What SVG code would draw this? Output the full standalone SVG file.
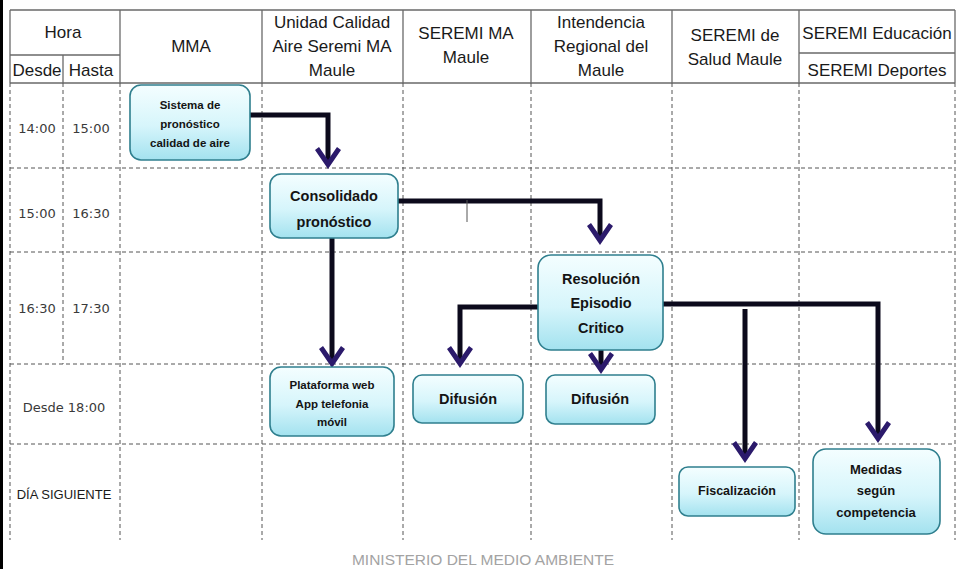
<svg xmlns="http://www.w3.org/2000/svg" xmlns:xlink="http://www.w3.org/1999/xlink" width="957" height="569" viewBox="0 0 957 569">
<style>
.hdr{font-family:"Liberation Sans",Arial,sans-serif;font-size:17px;fill:#1a1a1a;text-anchor:middle}
.tm{font-family:"DejaVu Sans",Verdana,sans-serif;font-size:13px;fill:#3a3a3a;text-anchor:middle}
.tm2{font-family:"Liberation Sans",Arial,sans-serif;font-size:13px;fill:#1a1a1a;text-anchor:middle}
.solid{stroke:#6a6a6a;stroke-width:1.3;fill:none}
.dash{stroke:#555;stroke-width:1;stroke-dasharray:4 3;fill:none}
.box{fill:url(#g);stroke:#2f7f8e;stroke-width:1.6}
.nt{font-family:"Liberation Sans",Arial,sans-serif;font-weight:bold;fill:#141414;text-anchor:middle}
.wire{stroke:#0c0a1c;stroke-width:5;fill:none;stroke-linejoin:miter}
.foot{font-family:"Liberation Sans",Arial,sans-serif;font-size:15.5px;fill:#a3a3a3;text-anchor:middle}
</style>
<defs>
<linearGradient id="g" x1="0" y1="0" x2="0" y2="1">
<stop offset="0" stop-color="#f4feff"/>
<stop offset="0.55" stop-color="#d6f5fb"/>
<stop offset="1" stop-color="#a3e2ef"/>
</linearGradient>
<path id="ah" d="M0,0 L-13,-19 L-9,-22 L0,-9 L9,-22 L13,-19 Z" fill="#2b1a6b"/>
</defs>
<rect x="0" y="0" width="3" height="569" fill="#000"/>
<g id="grid">
<path class="solid" d="M10,10 H955 M10,83 H955 M10,55 H120 M799,53 H955 M63,55 V83 M10,10 V83 M120,10 V83 M262,10 V83 M403,10 V83 M531,10 V83 M672,10 V83 M799,10 V83 M955,10 V83"/>
<path class="dash" d="M10,168 H955 M10,252 H955 M10,364 H955 M10,444 H955 M10,83 V540 M63,83 V364 M120,83 V540 M262,83 V540 M403,83 V540 M531,83 V540 M672,83 V540 M799,83 V540 M955,83 V540"/>
</g>
<g id="header">
<text class="hdr" x="63" y="38">Hora</text>
<text class="hdr" x="37" y="76">Desde</text>
<text class="hdr" x="91" y="76">Hasta</text>
<text class="hdr" x="191" y="52">MMA</text>
<text class="hdr" x="332" y="28">Unidad Calidad</text>
<text class="hdr" x="332" y="52">Aire Seremi MA</text>
<text class="hdr" x="332" y="76">Maule</text>
<text class="hdr" x="466" y="39">SEREMI MA</text>
<text class="hdr" x="466" y="63">Maule</text>
<text class="hdr" x="601" y="28">Intendencia</text>
<text class="hdr" x="601" y="52">Regional del</text>
<text class="hdr" x="601" y="76">Maule</text>
<text class="hdr" x="735" y="41">SEREMI de</text>
<text class="hdr" x="735" y="65">Salud Maule</text>
<text class="hdr" x="877" y="39">SEREMI Educación</text>
<text class="hdr" x="877" y="76">SEREMI Deportes</text>
</g>
<g id="times">
<text class="tm" x="37" y="133">14:00</text>
<text class="tm" x="91" y="133">15:00</text>
<text class="tm" x="37" y="218">15:00</text>
<text class="tm" x="91" y="218">16:30</text>
<text class="tm" x="37" y="313">16:30</text>
<text class="tm" x="91" y="313">17:30</text>
<text class="tm" x="64" y="412">Desde 18:00</text>
<text class="tm2" x="64" y="499">DÍA SIGUIENTE</text>
</g>
<g id="connectors">
<path class="wire" d="M250,115 H328 V164"/>
<use xlink:href="#ah" x="328" y="169"/>
<path class="wire" d="M398,201 H600 V240"/>
<use xlink:href="#ah" x="600" y="245"/>
<path d="M467,200 V222" stroke="#555" stroke-width="1"/>
<path class="wire" d="M332,238 V363"/>
<use xlink:href="#ah" x="332" y="368"/>
<path class="wire" d="M540,307 H460 V363"/>
<use xlink:href="#ah" x="460" y="368"/>
<path class="wire" d="M601,350 V369"/>
<use xlink:href="#ah" x="601" y="374"/>
<path class="wire" d="M663,304 H878 V438"/>
<use xlink:href="#ah" x="878" y="443"/>
<path class="wire" d="M745,309 V458"/>
<use xlink:href="#ah" x="745" y="463"/>
</g>
<g id="n-sistema">
<rect class="box" x="130" y="85" width="120" height="75" rx="11"/>
<text class="nt" font-size="11.5" x="190" y="109">Sistema de</text>
<text class="nt" font-size="11.5" x="190" y="128">pronóstico</text>
<text class="nt" font-size="11.5" x="190" y="147">calidad de aire</text>
</g>
<g id="n-consolidado">
<rect class="box" x="270" y="174" width="128" height="64" rx="11"/>
<text class="nt" font-size="14.5" x="334" y="201">Consolidado</text>
<text class="nt" font-size="14.5" x="334" y="227">pronóstico</text>
</g>
<g id="n-resolucion">
<rect class="box" x="538" y="255" width="125" height="95" rx="13"/>
<text class="nt" font-size="14.5" x="601" y="284">Resolución</text>
<text class="nt" font-size="14.5" x="601" y="308">Episodio</text>
<text class="nt" font-size="14.5" x="601" y="333">Critico</text>
</g>
<g id="n-plataforma">
<rect class="box" x="270" y="367" width="124" height="69" rx="11"/>
<text class="nt" font-size="11.5" x="332" y="389">Plataforma web</text>
<text class="nt" font-size="11.5" x="332" y="408">App telefonia</text>
<text class="nt" font-size="11.5" x="332" y="426">móvil</text>
</g>
<g id="n-difusion1">
<rect class="box" x="413" y="375" width="110" height="48" rx="9"/>
<text class="nt" font-size="14.5" x="468" y="404">Difusión</text>
</g>
<g id="n-difusion2">
<rect class="box" x="546" y="375" width="109" height="49" rx="9"/>
<text class="nt" font-size="14.5" x="600" y="404">Difusión</text>
</g>
<g id="n-fiscalizacion">
<rect class="box" x="679" y="467" width="116" height="49" rx="9"/>
<text class="nt" font-size="12.5" x="737" y="495">Fiscalización</text>
</g>
<g id="n-medidas">
<rect class="box" x="813" y="449" width="127" height="85" rx="13"/>
<text class="nt" font-size="13" x="876" y="474">Medidas</text>
<text class="nt" font-size="13" x="876" y="495">según</text>
<text class="nt" font-size="13" x="876" y="517">competencia</text>
</g>
<text class="foot" x="483" y="565">MINISTERIO DEL MEDIO AMBIENTE</text>
</svg>
